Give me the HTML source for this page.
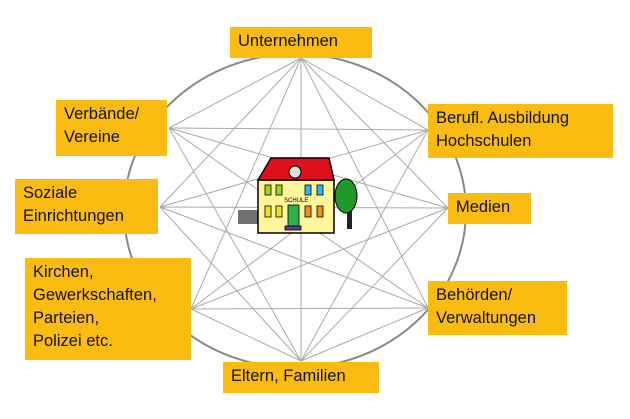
<!DOCTYPE html>
<html><head><meta charset="utf-8"><style>
body{margin:0;background:#fff;width:630px;height:419px;overflow:hidden;position:relative;font-family:"Liberation Sans",sans-serif}
.b{position:absolute;background:#fbbc12;color:#111;font-size:16.5px;line-height:23px;padding:3px 8px;box-sizing:border-box}
svg{position:absolute;left:0;top:0}
</style></head><body>
<svg width="630" height="419" viewBox="0 0 630 419">
<ellipse cx="295" cy="211" rx="171" ry="157" fill="none" stroke="#888" stroke-width="2"/>
<g stroke="#aaa" stroke-width="1" id="ln"></g>
<g>
<rect x="238" y="210" width="20" height="14" fill="#333" opacity=".7"/>
<rect x="258" y="180" width="76" height="53" fill="#fff59a" stroke="#000" stroke-width="1.5"/>
<path d="M258 180 L271 158 L329 158 L334 180 Z" fill="#e0101a" stroke="#000" stroke-width="1.5"/>
<circle cx="295" cy="172" r="6" fill="#ddd" stroke="#000"/>
<g stroke="#000" stroke-width=".8">
<rect x="265" y="185" width="6" height="10" fill="#9ad820"/><rect x="276" y="185" width="6" height="10" fill="#9ad820"/>
<rect x="305" y="185" width="6" height="10" fill="#30b8f0"/><rect x="317" y="185" width="6" height="10" fill="#30b8f0"/>
<rect x="265" y="206" width="6" height="11" fill="#f0e020"/><rect x="276" y="206" width="6" height="11" fill="#f0e020"/>
<rect x="305" y="206" width="6" height="11" fill="#f09020"/><rect x="317" y="206" width="6" height="11" fill="#f09020"/>
<rect x="288" y="205" width="11" height="21" fill="#2bb24a"/>
<rect x="285" y="226" width="16" height="4" fill="#7030a0"/>
</g>
<text x="284" y="202" font-size="6" font-family="Liberation Sans">SCHULE</text>
<rect x="347" y="207" width="5" height="22" fill="#222"/>
<ellipse cx="346" cy="196" rx="11" ry="17" fill="#1d9a2a" stroke="#000"/>
</g>
</svg>
<div class="b" style="left:230px;top:27px;width:142px;height:31px">Unternehmen</div>
<div class="b" style="left:56px;top:100px;width:111px;height:56px">Verbände/<br>Vereine</div>
<div class="b" style="left:428px;top:104px;width:185px;height:54px">Berufl. Ausbildung<br>Hochschulen</div>
<div class="b" style="left:15px;top:179px;width:143px;height:55px">Soziale<br>Einrichtungen</div>
<div class="b" style="left:448px;top:193px;width:83px;height:31px">Medien</div>
<div class="b" style="left:25px;top:258px;width:166px;height:102px">Kirchen,<br>Gewerkschaften,<br>Parteien,<br>Polizei etc.</div>
<div class="b" style="left:428px;top:281px;width:139px;height:54px">Behörden/<br>Verwaltungen</div>
<div class="b" style="left:223px;top:362px;width:156px;height:31px">Eltern, Familien</div>
<script>
var p=[[301,58],[169,128],[428,130],[160,207],[448,208],[191,309],[428,308],[301,361]];
var L=[1,3,5],R=[2,4,6];
function same(a,b){return (L.indexOf(a)>=0&&L.indexOf(b)>=0)||(R.indexOf(a)>=0&&R.indexOf(b)>=0);}
var g=document.getElementById('ln'),s='';
for(var i=0;i<8;i++)for(var j=i+1;j<8;j++){if(same(i,j))continue;s+='<line x1="'+p[i][0]+'" y1="'+p[i][1]+'" x2="'+p[j][0]+'" y2="'+p[j][1]+'"/>';}
g.innerHTML=s;
</script>
</body></html>
